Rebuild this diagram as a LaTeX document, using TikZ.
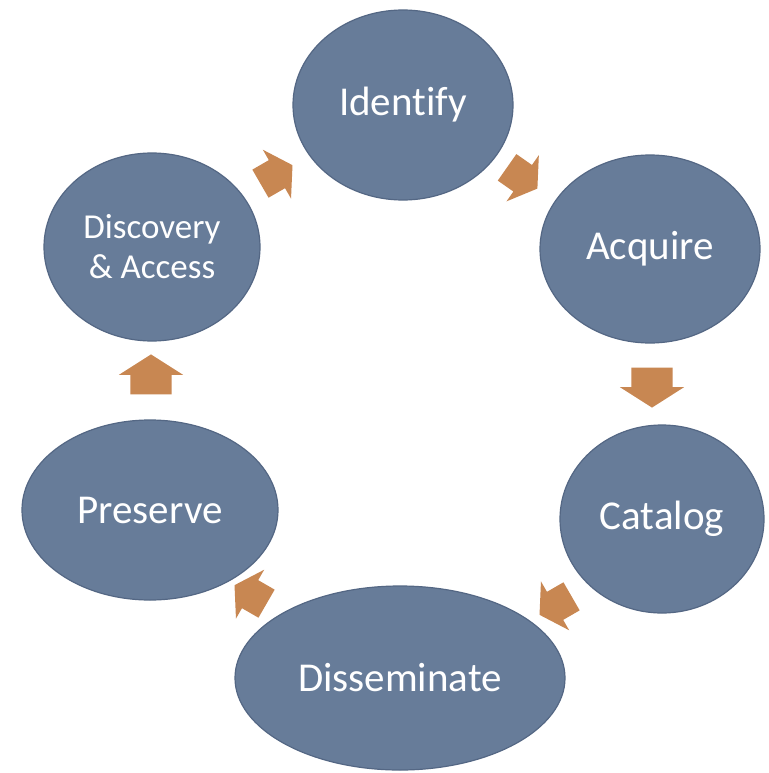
\documentclass[tikz,border=0pt]{standalone}
\usepackage{fontspec}
\setmainfont[Ligatures=NoCommon]{Carlito}
\usetikzlibrary{shapes.geometric,shapes.arrows}
\definecolor{nodefill}{RGB}{103,124,153}
\definecolor{nodeedge}{RGB}{84,103,132}
\definecolor{arrowfill}{RGB}{200,135,82}
\begin{document}
\begin{tikzpicture}[x=1pt,y=-1pt,
  stage/.style={ellipse, fill=nodefill, draw=nodeedge, line width=1.2pt, inner sep=0pt,
    text=white, font=\fontsize{41}{49}\selectfont, align=center},
  cyclearrow/.style={single arrow, fill=arrowfill, draw=none, inner sep=0pt,
    text height=41pt, text depth=0pt, text width=0pt,
    minimum height=40pt, single arrow head extend=11.5pt,
    single arrow tip angle=115},
  smallarrow/.style={cyclearrow, minimum height=37pt, text height=32pt,
    single arrow head extend=12pt}]
\useasboundingbox (0,0) rectangle (768,773);
\fill[white] (0,0) rectangle (768,773);
\node[stage, minimum width=220pt, minimum height=190pt] (ident) at (403,105) {Identify};
\node[stage, minimum width=220pt, minimum height=188pt] (acq) at (650,249) {Acquire};
\node[stage, minimum width=204pt, minimum height=188pt] (cat) at (662,519) {Catalog};
\node[stage, minimum width=330pt, minimum height=184pt] (diss) at (400,678) {Disseminate};
\node[stage, minimum width=256pt, minimum height=180pt] (pres) at (150,510) {Preserve};
\node[stage, minimum width=216pt, minimum height=188pt,
  font=\fontsize{35}{40}\selectfont] (disc) at (152,247) {Discovery\\\& Access};
\node[smallarrow, rotate=30] (a1) at (272,177) {};
\node[smallarrow, rotate=-35] (a2) at (518,175) {};
\node[cyclearrow, rotate=-90] (a3) at (652,381) {};
\node[smallarrow, rotate=-150] (a4) at (560,603) {};
\node[smallarrow, rotate=150] (a5) at (255,597) {};
\node[cyclearrow, rotate=90] (a6) at (151,381) {};
\end{tikzpicture}
\end{document}
